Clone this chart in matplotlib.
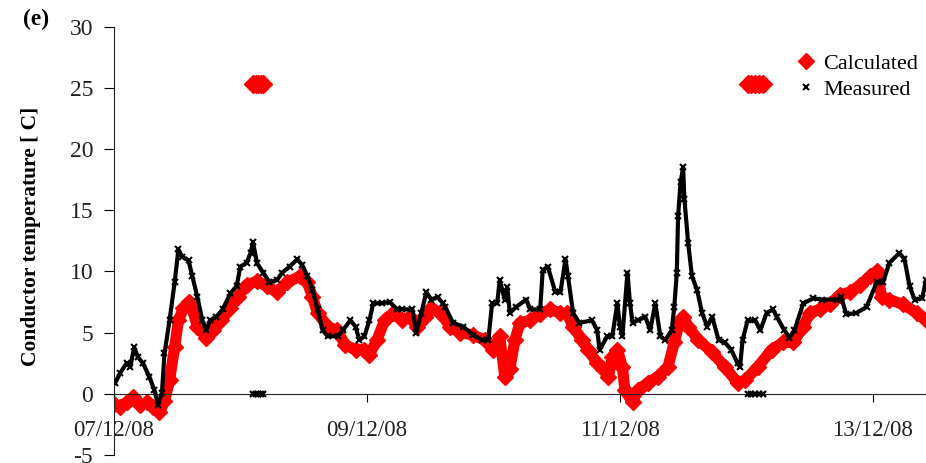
import numpy as np
from matplotlib import pyplot as plt
from matplotlib.lines import Line2D

plt.rcParams['axes.unicode_minus'] = False

# time in days after 07/12/08 00:00, temperatures in deg C
meas_day = [0.01, 0.05, 0.10, 0.13, 0.16, 0.19, 0.23, 0.28, 0.32, 0.35, 0.38, 0.40, 0.44, 0.48,
            0.51, 0.54, 0.59, 0.62, 0.66, 0.70, 0.73, 0.76, 0.81, 0.86, 0.92, 0.97, 1.00, 1.05,
            1.08, 1.10, 1.13, 1.18, 1.23, 1.29, 1.33, 1.39, 1.45, 1.49, 1.53, 1.57, 1.61, 1.65,
            1.69, 1.77, 1.81, 1.87, 1.91, 1.94, 1.98, 2.02, 2.05, 2.12, 2.18, 2.24, 2.28, 2.36,
            2.39, 2.43, 2.47, 2.51, 2.56, 2.60, 2.62, 2.68, 2.76, 2.84, 2.91, 2.96, 2.99, 3.03,
            3.05, 3.09, 3.11, 3.13, 3.18, 3.26, 3.29, 3.37, 3.39, 3.43, 3.49, 3.53, 3.57, 3.59,
            3.63, 3.68, 3.78, 3.82, 3.84, 3.90, 3.94, 3.98, 4.00, 4.02, 4.06, 4.08, 4.10, 4.14,
            4.20, 4.24, 4.28, 4.32, 4.36, 4.41, 4.43, 4.45, 4.46, 4.48, 4.50, 4.51, 4.54, 4.57,
            4.61, 4.65, 4.69, 4.73, 4.78, 4.83, 4.88, 4.93, 4.95, 4.97, 5.01, 5.07, 5.11, 5.16,
            5.21, 5.24, 5.30, 5.34, 5.38, 5.45, 5.53, 5.60, 5.72, 5.75, 5.79, 5.87, 5.95, 6.03,
            6.08, 6.13, 6.21, 6.25, 6.29, 6.33, 6.39, 6.42]
meas_temp = [0.9, 1.7, 2.5, 2.2, 3.8, 3.0, 2.5, 1.4, 0.3, -0.9, 0.1, 3.3, 6.0, 9.1,
             11.8, 11.2, 10.9, 9.6, 7.9, 6.0, 5.2, 6.0, 6.3, 6.9, 8.2, 8.8, 10.4, 10.7,
             11.5, 12.4, 10.7, 9.9, 9.1, 9.3, 9.9, 10.4, 11.0, 10.5, 9.6, 8.5, 6.9, 5.2,
             4.7, 4.7, 5.2, 6.0, 5.5, 4.4, 4.7, 6.0, 7.4, 7.4, 7.5, 6.9, 6.9, 6.9,
             5.0, 6.6, 8.3, 7.7, 7.9, 7.4, 7.1, 5.8, 5.5, 4.8, 4.4, 4.4, 7.4, 7.4,
             9.3, 7.7, 8.7, 6.6, 7.1, 7.7, 6.9, 6.9, 10.1, 10.4, 8.3, 8.3, 11.0, 9.6,
             6.6, 5.8, 6.0, 5.2, 3.6, 4.7, 4.7, 7.4, 5.5, 4.7, 9.9, 7.4, 5.8, 6.0,
             6.3, 5.2, 7.4, 4.7, 4.4, 5.2, 7.1, 9.9, 14.5, 17.3, 18.5, 15.9, 12.3, 9.6,
             8.5, 6.6, 5.5, 6.3, 4.4, 4.2, 3.6, 2.5, 2.2, 4.4, 6.0, 6.0, 5.2, 6.6,
             6.9, 6.3, 5.2, 4.6, 5.2, 7.4, 7.8, 7.7, 7.7, 7.9, 6.5, 6.6, 7.1, 9.1,
             9.1, 10.7, 11.5, 11.0, 8.8, 7.7, 7.8, 9.3]

calc_day = [0.00, 0.05, 0.10, 0.15, 0.21, 0.26, 0.31, 0.36, 0.40, 0.44, 0.48, 0.51, 0.55, 0.59,
            0.62, 0.66, 0.73, 0.78, 0.85, 0.92, 0.98, 1.05, 1.13, 1.21, 1.29, 1.37, 1.47, 1.53,
            1.57, 1.61, 1.69, 1.76, 1.83, 1.91, 1.98, 2.02, 2.08, 2.14, 2.21, 2.28, 2.34, 2.40,
            2.46, 2.51, 2.58, 2.66, 2.74, 2.84, 2.93, 3.00, 3.05, 3.09, 3.13, 3.17, 3.21, 3.29,
            3.37, 3.45, 3.53, 3.58, 3.63, 3.70, 3.75, 3.82, 3.87, 3.91, 3.94, 3.98, 4.02, 4.04,
            4.10, 4.14, 4.22, 4.30, 4.38, 4.43, 4.47, 4.50, 4.54, 4.62, 4.73, 4.83, 4.93, 4.99,
            5.09, 5.20, 5.29, 5.37, 5.45, 5.50, 5.58, 5.66, 5.74, 5.82, 5.90, 5.98, 6.03, 6.07,
            6.13, 6.24, 6.35, 6.42]
calc_temp = [-0.8, -1.1, -0.7, -0.3, -0.9, -0.7, -1.1, -1.5, -0.6, 1.1, 3.8, 6.0, 7.0, 7.5,
             6.9, 5.5, 4.6, 5.2, 6.0, 7.0, 7.9, 8.9, 9.2, 8.8, 8.3, 9.1, 9.6, 9.1,
             7.9, 6.6, 5.5, 5.2, 4.0, 3.6, 3.6, 3.2, 4.4, 6.0, 6.6, 6.0, 6.3, 5.5,
             6.3, 7.0, 6.6, 5.5, 5.0, 4.8, 4.4, 3.6, 4.7, 1.4, 2.0, 4.4, 5.8, 6.0,
             6.5, 6.9, 6.6, 6.6, 5.5, 4.4, 3.6, 2.5, 2.0, 1.4, 3.0, 3.6, 2.2, 0.3,
             -0.7, 0.3, 0.9, 1.4, 2.2, 4.2, 5.8, 6.3, 5.5, 4.4, 3.4, 2.2, 0.9, 1.1,
             2.2, 3.6, 4.2, 4.2, 5.5, 6.6, 6.9, 7.3, 8.1, 8.3, 8.9, 9.6, 10.0, 7.9,
             7.7, 7.3, 6.6, 6.0]

# bad records: calculated stuck high, measured at zero
bad_day = [1.10, 1.12, 1.14, 1.16, 1.18, 5.01, 5.04, 5.07, 5.10, 5.13]
bad_calc = [25.3] * len(bad_day)
bad_meas = [0.0] * len(bad_day)

tick_days = [0, 2, 4, 6]
tick_labels = ['07/12/08', '09/12/08', '11/12/08', '13/12/08']

serif = 'Liberation Serif'
fig = plt.figure(figsize=(9.26, 4.63), dpi=100)
ax = fig.add_axes([0.123, 0.0173, 0.877, 0.925])

ax.plot(calc_day, calc_temp, color='red', lw=8, marker='D', ms=8, mec='red',
        solid_joinstyle='round', zorder=2)
ax.plot(bad_day, bad_calc, ls='none', color='red', marker='D', ms=9, zorder=2)
ax.plot(meas_day, meas_temp, color='black', lw=3, marker='x', ms=4, mew=1.5,
        solid_joinstyle='round', zorder=3)
ax.plot(bad_day, bad_meas, ls='none', color='black', marker='x', ms=4, mew=1.6, zorder=3)

ax.set_xlim(0, 6.42)
ax.set_ylim(-5, 30)
ax.set_yticks(np.arange(-5, 31, 5))
ax.set_xticks(tick_days)
ax.set_xticklabels(tick_labels)

for side in ['top', 'right']:
    ax.spines[side].set_visible(False)
ax.spines['bottom'].set_position(('data', 0))
ax.spines['left'].set_color('#222222')
ax.spines['bottom'].set_color('#222222')
ax.tick_params(axis='y', direction='out', length=7, pad=8, labelsize=17)
ax.tick_params(axis='x', direction='out', length=6, pad=13, labelsize=16.5)
for lab in ax.get_xticklabels() + ax.get_yticklabels():
    lab.set_fontfamily(serif)
    lab.set_color('#222222')

ax.set_ylabel('Conductor temperature [ C]', fontsize=15.5, fontweight='bold',
              fontfamily=serif)
ax.yaxis.set_label_coords(-0.09, 0.51)
fig.text(0.025, 0.945, '(e)', fontsize=17, fontweight='bold', fontfamily=serif)

handles = [Line2D([], [], ls='none', color='red', marker='D', ms=8),
           Line2D([], [], ls='none', color='black', marker='x', ms=4, mew=1.5)]
ax.legend(handles, ['Calculated', 'Measured'], loc='upper right', bbox_to_anchor=(1.015, 0.985),
          frameon=False, prop={'family': serif, 'size': 16}, handlelength=0.6,
          handletextpad=0.5, labelspacing=0.25)

fig.savefig('out.png', dpi=100)
